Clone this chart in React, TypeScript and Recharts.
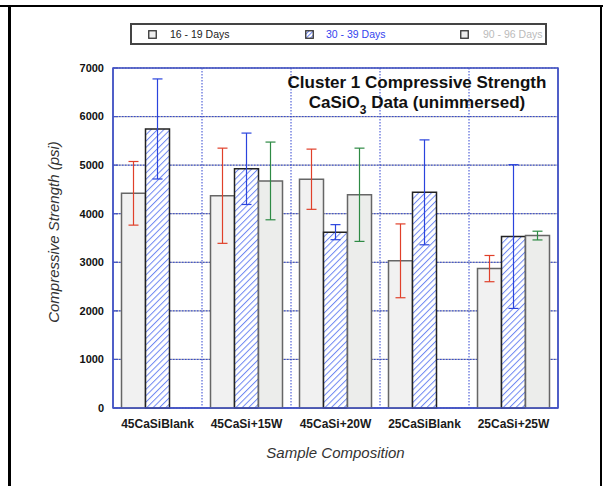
import { BarChart, Bar, XAxis, YAxis, CartesianGrid, ErrorBar, ReferenceArea } from "recharts";

// compressive strength (psi) per sample, grouped by curing age
const samples = ["45CaSiBlank", "45CaSi+15W", "45CaSi+20W", "25CaSiBlank", "25CaSi+25W"];
const days16to19 = [4420, 4370, 4710, 3030, 2870];
const days30to39 = [5745, 4925, 3620, 4440, 3530];
const days90to96 = [null, 4675, 4390, null, 3550];
const err16to19 = [655, 980, 620, 760, 270];
const err30to39 = [1030, 735, 155, 1080, 1480];
const err90to96 = [null, 800, 960, null, 90];
const strengthTicks = [0, 1000, 2000, 3000, 4000, 5000, 6000, 7000];
const seriesNames = ["16 - 19 Days", "30 - 39 Days", "90 - 96 Days"];

const data = samples.map((name, i) => ({
  name,
  d16: days16to19[i],
  d16Err: err16to19[i],
  d30: days30to39[i],
  d30Err: err30to39[i],
  d90: days90to96[i],
  d90Err: err90to96[i],
}));

const FONT = '"Liberation Sans", Arial, sans-serif';
const BLUE = "#4555c4";
const HATCH = "#6f88f2";

// vertical separators sit between sample groups, not on their centres
const groupEdges = ({ offset }: any) =>
  samples.slice(1).map((_, i) => offset.left + ((i + 1) * offset.width) / samples.length);

// diagonal "/" stripes: a vertical bar rotated by 45 degrees
const Hatch = ({ id, gap }: { id: string; gap: number }) => (
  <pattern id={id} patternUnits="userSpaceOnUse" width={gap} height={gap} patternTransform="rotate(45)">
    <rect x={0} y={0} width={gap} height={gap} fill="#ffffff" />
    <rect x={0} y={0} width={1} height={gap} fill={HATCH} />
  </pattern>
);

const LegendIcon = ({ hatched }: { hatched?: boolean }) => (
  <svg width={9} height={9} style={{ position: "absolute", top: 5 }}>
    <rect x={0.75} y={0.75} width={7.5} height={7.5} fill={hatched ? "url(#hatchSmall)" : "#eeeeee"} stroke="#333" strokeWidth={1.3} />
  </svg>
);

const ChartLegend = () => (
  <div
    style={{
      position: "absolute",
      left: 130,
      top: 23,
      width: 413,
      height: 18,
      border: "2px solid #444",
      fontSize: 10.5,
      fontFamily: FONT,
    }}
  >
    <svg width={0} height={0} style={{ position: "absolute" }}>
      <defs>
        <Hatch id="hatchSmall" gap={3} />
      </defs>
    </svg>
    <div style={{ position: "absolute", left: 16 }}><LegendIcon /></div>
    <span style={{ position: "absolute", left: 38, top: 3, color: "#222" }}>{seriesNames[0]}</span>
    <div style={{ position: "absolute", left: 173 }}><LegendIcon hatched /></div>
    <span style={{ position: "absolute", left: 194, top: 3, color: "#3344ee" }}>{seriesNames[1]}</span>
    <div style={{ position: "absolute", left: 328 }}><LegendIcon /></div>
    <span style={{ position: "absolute", left: 351, top: 3, color: "#bbbbbb" }}>{seriesNames[2]}</span>
  </div>
);

const App = () => {
  return (
    <div
      style={{
        position: "absolute",
        left: 0,
        top: 0,
        width: 603,
        height: 486,
        background: "#fff",
        fontFamily: FONT,
        overflow: "hidden",
      }}
    >
      {/* page frame */}
      <div style={{ position: "absolute", left: 0, top: 5, width: 603, height: 2, background: "#000" }} />
      <div style={{ position: "absolute", left: 8, top: 5, width: 3, height: 481, background: "#000" }} />
      <div style={{ position: "absolute", left: 600, top: 5, width: 2, height: 481, background: "#000" }} />

      <ChartLegend />

      <BarChart
        width={603}
        height={486}
        data={data}
        margin={{ top: 68, right: 0, bottom: 18, left: 63 }}
        barCategoryGap={8.5}
        barGap={0}
      >
        <defs>
          <Hatch id="hatch" gap={4.5} />
        </defs>
        <CartesianGrid vertical={false} stroke="#a6a8b8" strokeWidth={1.2} />
        <CartesianGrid
          stroke="#3045d0"
          strokeDasharray="1.5 1.5"
          strokeWidth={1}
          verticalCoordinatesGenerator={groupEdges}
        />
        <XAxis
          dataKey="name"
          height={60}
          axisLine={{ stroke: BLUE, strokeWidth: 1.5 }}
          tickLine={false}
          tickSize={0}
          tickMargin={11}
          interval={0}
          tick={{ fontSize: 12, fontWeight: 700, fill: "#1a1a1a" }}
          label={({ viewBox }: any) => (
            <text
              x={viewBox.x + viewBox.width / 2}
              y={viewBox.y + 44}
              textAnchor="middle"
              dominantBaseline="central"
              fontSize={15}
              fontStyle="italic"
              fill="#333"
            >
              Sample Composition
            </text>
          )}
        />
        <YAxis
          width={50}
          domain={[0, 7000]}
          ticks={strengthTicks}
          interval={0}
          axisLine={{ stroke: BLUE, strokeWidth: 1.5 }}
          tickLine={{ stroke: BLUE, strokeWidth: 1.2 }}
          tickSize={-5}
          tickMargin={14}
          tick={{ fontSize: 11, fontWeight: 700, fill: "#111" }}
          label={({ viewBox }: any) => {
            const x = viewBox.x - 10;
            const y = viewBox.y + viewBox.height / 2 - 6;
            return (
              <text
                x={x}
                y={y}
                transform={`rotate(-90, ${x}, ${y})`}
                textAnchor="middle"
                dominantBaseline="central"
                fontSize={15}
                fontStyle="italic"
                fill="#333"
              >
                Compressive Strength (psi)
              </text>
            );
          }}
        />
        <YAxis
          yAxisId="right"
          orientation="right"
          width={45}
          domain={[0, 7000]}
          ticks={strengthTicks}
          interval={0}
          axisLine={{ stroke: BLUE, strokeWidth: 1.5 }}
          tickLine={{ stroke: BLUE, strokeWidth: 1.2 }}
          tickSize={-5}
          tick={false}
        />
        <ReferenceArea y1={0} y2={7000} fill="none" stroke={BLUE} strokeWidth={1.5} />
        <Bar dataKey="d16" fill="#f1f1f1" stroke="#666" strokeWidth={1.5} isAnimationActive={false}>
          <ErrorBar dataKey="d16Err" width={5} stroke="#e0402a" strokeWidth={1.2} />
        </Bar>
        <Bar dataKey="d30" fill="url(#hatch)" stroke="#222" strokeWidth={1.5} isAnimationActive={false}>
          <ErrorBar dataKey="d30Err" width={5} stroke="#2a44dd" strokeWidth={1.2} />
        </Bar>
        <Bar dataKey="d90" fill="#ecedeb" stroke="#666" strokeWidth={1.5} isAnimationActive={false}>
          <ErrorBar dataKey="d90Err" width={5} stroke="#2e8a44" strokeWidth={1.2} />
        </Bar>
      </BarChart>

      {/* chart title */}
      <div
        style={{
          position: "absolute",
          left: 267,
          top: 73,
          width: 300,
          textAlign: "center",
          fontSize: 17,
          fontWeight: 700,
          lineHeight: "20px",
          color: "#111",
          pointerEvents: "none",
        }}
      >
        <div>Cluster 1 Compressive Strength</div>
        <div>
          CaSiO<sub style={{ fontSize: 12, verticalAlign: -6, lineHeight: 0 }}>3</sub> Data (unimmersed)
        </div>
      </div>
    </div>
  );
};

export default App;
